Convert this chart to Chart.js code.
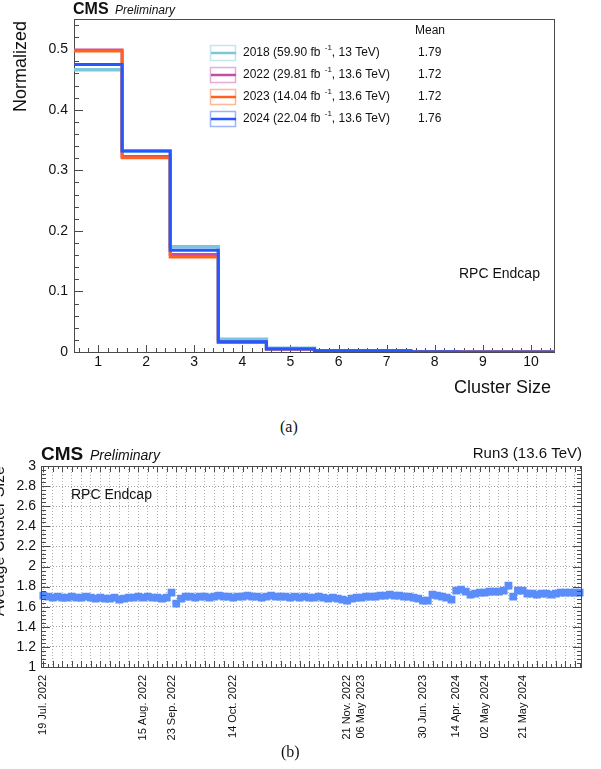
<!DOCTYPE html>
<html>
<head>
<meta charset="utf-8">
<script src="https://cdn.jsdelivr.net/npm/chart.js@4"></script>
<style>
  body { margin: 0; background: #fff; width: 601px; height: 769px; position: relative; overflow: hidden; }
  canvas { position: absolute; left: 0; }
  #sizeHist { top: 0; }
  #sizeTrend { top: 440px; }
  .cap { position: absolute; font-family: "Liberation Serif", "DejaVu Serif", serif; font-size: 16px; line-height: 1; color: #111; }
</style>
</head>
<body>
<canvas id="sizeHist" width="601" height="400"></canvas>
<div class="cap" style="left:280px; top:419px">(a)</div>
<canvas id="sizeTrend" width="601" height="310"></canvas>
<div class="cap" style="left:281px; top:744px">(b)</div>
<script>
// (a) cluster size distributions, normalised
const clusterSizes = [1, 2, 3, 4, 5, 6, 7, 8, 9, 10]
const frac2018 = [0.466, 0.332, 0.174, 0.021, 0.006, 0.002, 0.002, 0.0006, 0.0004, 0.0003]
const frac2022 = [0.499, 0.323, 0.161, 0.016, 0.005, 0.002, 0.0015, 0.0005, 0.0002, 0.0001]
const frac2023 = [0.497, 0.321, 0.157, 0.016, 0.005, 0.002, 0.0015, 0.0005, 0.0002, 0.0001]
const frac2024 = [0.475, 0.332, 0.168, 0.017, 0.005, 0.002, 0.002, 0.0005, 0.0002, 0.0001]
const yTicksA = [0, 0.1, 0.2, 0.3, 0.4, 0.5]

const years = ['2018', '2022', '2023', '2024']
const lumis = ['59.90', '29.81', '14.04', '22.04']
const energies = ['13', '13.6', '13.6', '13.6']
const means = ['1.79', '1.72', '1.72', '1.76']
const colours = ['#7cc5da', '#c64aa6', '#ff621f', '#2457ff']

// (b) average cluster size per run
const avgSize = [
    1.71, 1.70, 1.69, 1.70, 1.69, 1.69, 1.70, 1.69, 1.69, 1.70, 1.69,
    1.68, 1.69, 1.68, 1.68, 1.69, 1.67, 1.68, 1.69, 1.69, 1.70,
    1.69, 1.70, 1.69, 1.69, 1.68, 1.69,
    1.74, 1.63, 1.68,
    1.70, 1.70, 1.69, 1.70, 1.70, 1.69, 1.70, 1.71, 1.70, 1.70,
    1.69, 1.70, 1.70, 1.71, 1.70, 1.70, 1.69, 1.70, 1.71, 1.70, 1.70,
    1.70, 1.69, 1.70, 1.69, 1.70, 1.69, 1.69, 1.70, 1.69, 1.68, 1.69, 1.68,
    1.67, 1.66,
    1.68, 1.69, 1.69, 1.70, 1.70, 1.70, 1.71, 1.71,
    1.72, 1.71, 1.71, 1.70, 1.70, 1.69,
    1.68, 1.66, 1.66,
    1.72, 1.71, 1.70, 1.69, 1.67,
    1.76, 1.77, 1.75, 1.72, 1.73, 1.74, 1.74, 1.75, 1.75, 1.75, 1.76,
    1.81, 1.70, 1.76, 1.76,
    1.73, 1.73, 1.72, 1.73, 1.73, 1.72, 1.73, 1.74, 1.74, 1.74, 1.74, 1.74
]
const tickDates = ['19 Jul. 2022', '15 Aug. 2022', '23 Sep. 2022', '14 Oct. 2022', '21 Nov. 2022',
                   '06 May 2023', '30 Jun. 2023', '14 Apr. 2024', '02 May 2024', '21 May 2024']
const tickRuns = [0, 21, 27, 40, 64, 67, 80, 87, 93, 101]
const yTicksB = [1, 1.2, 1.4, 1.6, 1.8, 2, 2.2, 2.4, 2.6, 2.8, 3]

const SANS = '"Liberation Sans", Arial, Helvetica, sans-serif'
const FRAME = '#4a4a4a'

function range(a, b, step) {
    const out = []
    for (let v = a; v <= b + 1e-9; v += step) out.push(+v.toFixed(6))
    return out
}

function put(ctx, str, x, y, font, align, baseline, rot) {
    ctx.save()
    ctx.font = font
    ctx.fillStyle = '#111'
    ctx.textAlign = align || 'left'
    ctx.textBaseline = baseline || 'alphabetic'
    ctx.translate(x, y)
    if (rot) ctx.rotate(rot)
    ctx.fillText(str, 0, 0)
    ctx.restore()
}

function seg(ctx, x1, y1, x2, y2) {
    ctx.beginPath()
    ctx.moveTo(x1, y1)
    ctx.lineTo(x2, y2)
    ctx.stroke()
}

function fade(hex, a) {
    const n = parseInt(hex.slice(1), 16)
    return `rgba(${n >> 16}, ${(n >> 8) & 255}, ${n & 255}, ${a})`
}

// ROOT style tick marks pointing into the frame
function tickMarks(ctx, scale, values, len, side, area) {
    values.forEach(v => {
        const p = Math.round(scale.getPixelForValue(v)) + 0.5
        if (side === 'bottom') seg(ctx, p, area.bottom, p, area.bottom - len)
        if (side === 'top') seg(ctx, p, area.top, p, area.top + len)
        if (side === 'left') seg(ctx, area.left, p, area.left + len, p)
        if (side === 'right') seg(ctx, area.right, p, area.right - len, p)
    })
}

// one point per bin edge, the line holds each bin's value until the next edge
function stepPoints(values) {
    const pts = values.map((v, i) => ({ x: clusterSizes[i] - 0.5, y: v }))
    pts.push({ x: clusterSizes[clusterSizes.length - 1] + 0.5, y: values[values.length - 1] })
    return pts
}

const decorA = {
    id: 'decorA',
    beforeDatasetsDraw(chart) {
        const ctx = chart.ctx
        const area = chart.chartArea
        ctx.save()
        ctx.strokeStyle = FRAME
        ctx.lineWidth = 1
        ctx.strokeRect(area.left + 0.5, area.top + 0.5, area.right - area.left - 1, area.bottom - area.top)
        tickMarks(ctx, chart.scales.x, clusterSizes, 7, 'bottom', area)
        tickMarks(ctx, chart.scales.x, range(0.6, 10.4, 0.2), 4, 'bottom', area)
        tickMarks(ctx, chart.scales.y, yTicksA, 9, 'left', area)
        tickMarks(ctx, chart.scales.y, range(0.02, 0.54, 0.02), 5, 'left', area)
        ctx.restore()
    },
    afterDraw(chart) {
        const ctx = chart.ctx
        const area = chart.chartArea
        ctx.save()
        put(ctx, 'CMS', 73, 14, `bold 16px ${SANS}`)
        put(ctx, 'Preliminary', 115, 14, `italic 12px ${SANS}`)
        put(ctx, 'Normalized', 21, area.top + 2, `18px ${SANS}`, 'right', 'middle', -Math.PI / 2)
        put(ctx, 'Cluster Size', 551, 388, `18px ${SANS}`, 'right', 'middle')
        put(ctx, 'RPC Endcap', 459, 274, `14px ${SANS}`, 'left', 'middle')

        // legend with mean column
        put(ctx, 'Mean', 415, 31, `12px ${SANS}`, 'left', 'middle')
        years.forEach((yr, i) => {
            const cy = 53 + i * 22
            ctx.strokeStyle = fade(colours[i], 0.45)
            ctx.lineWidth = 1.5
            ctx.strokeRect(210.5, cy - 7.5, 25, 15)
            ctx.strokeStyle = colours[i]
            ctx.lineWidth = 2.5
            seg(ctx, 211, cy, 236, cy)
            const head = `${yr} (${lumis[i]} fb `
            ctx.font = `12px ${SANS}`
            let x = 243
            put(ctx, head, x, cy, `12px ${SANS}`, 'left', 'middle')
            x += ctx.measureText(head).width + 1
            put(ctx, '-1', x, cy - 5, `8px ${SANS}`, 'left', 'middle')
            ctx.font = `8px ${SANS}`
            x += ctx.measureText('-1').width
            put(ctx, `, ${energies[i]} TeV)`, x, cy, `12px ${SANS}`, 'left', 'middle')
            put(ctx, means[i], 418, cy, `12px ${SANS}`, 'left', 'middle')
        })
        ctx.restore()
    }
}

const histSets = [frac2018, frac2022, frac2023, frac2024].map((vals, i) => ({
    label: years[i],
    data: stepPoints(vals),
    stepped: 'before',
    borderColor: colours[i],
    borderWidth: i === 0 ? 3.5 : 3,
    pointRadius: 0,
    fill: false,
    order: 4 - i
}))

const chartHist = new Chart(sizeHist, {
    type: 'line',
    data: { datasets: histSets },
    options: {
        responsive: false,
        animation: false,
        layout: { padding: { top: 19, right: 46, bottom: 0, left: 0 } },
        plugins: { legend: { display: false }, tooltip: { enabled: false } },
        scales: {
            x: {
                type: 'linear',
                min: 0.5,
                max: 10.5,
                afterBuildTicks: s => { s.ticks = clusterSizes.map(v => ({ value: v })) },
                afterFit: s => { s.height = 48 },
                grid: { display: false, drawTicks: false },
                border: { display: false },
                ticks: { padding: 2, color: '#111', font: { family: SANS, size: 14 }, callback: v => String(v) }
            },
            y: {
                min: 0,
                max: 0.55,
                afterBuildTicks: s => { s.ticks = yTicksA.map(v => ({ value: v })) },
                afterFit: s => { s.width = 74 },
                grid: { display: false, drawTicks: false },
                border: { display: false },
                ticks: { padding: 6, color: '#111', font: { family: SANS, size: 14 }, callback: v => String(v) }
            }
        }
    },
    plugins: [decorA]
})

const runLabels = avgSize.map(() => '')
tickRuns.forEach((r, i) => { runLabels[r] = tickDates[i] })

const decorB = {
    id: 'decorB',
    afterDraw(chart) {
        const ctx = chart.ctx
        const area = chart.chartArea
        const xs = chart.scales.x
        ctx.save()
        ctx.strokeStyle = FRAME
        ctx.lineWidth = 1
        ctx.strokeRect(area.left + 0.5, area.top + 0.5, area.right - area.left - 1, area.bottom - area.top)
        const every = avgSize.map((v, i) => i)
        const major = every.filter(i => i % 2 === 0)
        tickMarks(ctx, xs, every, 3, 'bottom', area)
        tickMarks(ctx, xs, every, 3, 'top', area)
        tickMarks(ctx, xs, major, 6, 'bottom', area)
        tickMarks(ctx, xs, major, 6, 'top', area)
        tickMarks(ctx, chart.scales.y, yTicksB, 9, 'left', area)
        tickMarks(ctx, chart.scales.y, yTicksB, 9, 'right', area)
        tickMarks(ctx, chart.scales.y, range(1, 3, 0.04), 5, 'left', area)
        tickMarks(ctx, chart.scales.y, range(1, 3, 0.04), 5, 'right', area)

        put(ctx, 'CMS', 41, 20, `bold 19px ${SANS}`)
        put(ctx, 'Preliminary', 90, 20, `italic 14px ${SANS}`)
        put(ctx, 'Run3 (13.6 TeV)', 582, 18, `15px ${SANS}`, 'right')
        put(ctx, 'RPC Endcap', 71, 55, `14px ${SANS}`, 'left', 'middle')
        put(ctx, 'Average Cluster Size', 0, area.top, `16px ${SANS}`, 'right', 'middle', -Math.PI / 2)
        ctx.restore()
    }
}

const chartTrend = new Chart(sizeTrend, {
    type: 'line',
    data: {
        labels: runLabels,
        datasets: [{
            label: 'Average cluster size',
            data: avgSize,
            showLine: false,
            pointStyle: 'rect',
            pointRadius: 5.5,
            pointBorderWidth: 0,
            backgroundColor: '#5a8dfa',
            borderColor: '#5a8dfa'
        }]
    },
    options: {
        responsive: false,
        animation: false,
        layout: { padding: { top: 26, right: 19, bottom: 0, left: 0 } },
        plugins: { legend: { display: false }, tooltip: { enabled: false } },
        scales: {
            x: {
                type: 'category',
                offset: true,
                afterFit: s => { s.height = 83 },
                grid: {
                    drawTicks: false,
                    lineWidth: 1,
                    color: c => (c.index % 2 === 0 ? '#b0b0b0' : 'rgba(0,0,0,0)')
                },
                border: { display: false, dash: [1, 2] },
                ticks: {
                    autoSkip: false,
                    minRotation: 90,
                    maxRotation: 90,
                    padding: 8,
                    color: '#111',
                    font: { family: SANS, size: 11 }
                }
            },
            y: {
                min: 1,
                max: 3,
                afterBuildTicks: s => { s.ticks = yTicksB.map(v => ({ value: v })) },
                afterFit: s => { s.width = 41 },
                grid: { drawTicks: false, color: '#a0a0a0' },
                border: { display: false, dash: [1, 2] },
                ticks: { padding: 5, color: '#111', font: { family: SANS, size: 14 }, callback: v => String(v) }
            }
        }
    },
    plugins: [decorB]
})
</script>
</body>
</html>
